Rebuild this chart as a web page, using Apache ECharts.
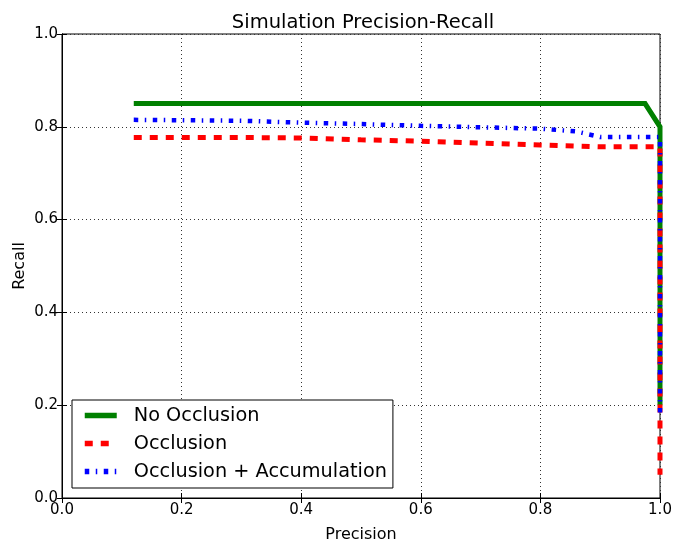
<!DOCTYPE html>
<html>
<head>
<meta charset="utf-8">
<script src="https://cdn.jsdelivr.net/npm/echarts@6/dist/echarts.min.js"></script>
<style>
  html, body { margin: 0; padding: 0; background: #fff; }
  #chart { width: 674px; height: 539px; }
</style>
</head>
<body>
<div id="chart"></div>
<script>
// Precision (x) / recall (y) pairs for each simulation setting
const noOcclusionPrecision = [0.12, 0.975, 1.0, 1.0];
const noOcclusionRecall    = [0.85, 0.85, 0.80, 0.20];

const occlusionPrecision = [0.12, 0.30, 0.40, 0.50, 0.60, 0.70, 0.80, 0.90, 1.00, 1.00];
const occlusionRecall    = [0.777, 0.777, 0.776, 0.772, 0.769, 0.765, 0.761, 0.757, 0.757, 0.05];

const accumPrecision = [0.12, 0.30, 0.40, 0.50, 0.60, 0.70, 0.80, 0.86, 0.90, 1.00, 1.00];
const accumRecall    = [0.815, 0.813, 0.809, 0.806, 0.802, 0.799, 0.796, 0.790, 0.778, 0.778, 0.18];

const FONT = 'DejaVu Sans';

function pairs(xs, ys) {
  return xs.map((x, i) => [x, ys[i]]);
}

const chart = echarts.init(document.getElementById('chart'), null, { renderer: 'canvas' });

const baseAxis = {
  type: 'value',
  min: 0,
  max: 1,
  interval: 0.2,
  axisLine: { show: true, lineStyle: { color: '#000', width: 1 } },
  axisTick: { show: true, inside: true, length: 5, lineStyle: { color: '#000', width: 1 } }
};

const gridLine = { show: true, lineStyle: { color: '#333', width: 1, type: [1, 3] } };

chart.setOption({
  animation: false,
  backgroundColor: '#fff',
  title: {
    text: 'Simulation Precision-Recall',
    left: 358,
    textAlign: 'center',
    top: 8,
    textStyle: { fontFamily: FONT, fontSize: 19.5, fontWeight: 'normal', color: '#000' }
  },
  grid: {
    left: 62, right: 14, top: 34, bottom: 41,
    outerBoundsMode: 'none',
    containLabel: false,
    show: true, borderColor: '#000', borderWidth: 1, backgroundColor: '#fff'
  },
  legend: {
    orient: 'vertical',
    left: 72,
    top: 400,
    padding: [6, 6, 7, 10],
    itemGap: 9,
    itemWidth: 32,
    itemHeight: 22,
    borderColor: '#000',
    borderWidth: 1,
    backgroundColor: '#fff',
    itemStyle: { opacity: 0 },
    lineStyle: { width: 5.5 },
    textStyle: {
      fontFamily: FONT, fontSize: 19.3, color: '#000',
      padding: [0, 0, 0, 12]
    },
    data: ['No Occlusion', 'Occlusion', 'Occlusion + Accumulation']
  },
  xAxis: [
    Object.assign({}, baseAxis, {
      position: 'bottom',
      name: 'Precision',
      nameLocation: 'middle',
      nameGap: 29,
      nameMoveOverlap: false,
      nameTextStyle: { fontFamily: FONT, fontSize: 16, color: '#000' },
      axisLabel: {
        fontFamily: FONT, fontSize: 15, color: '#000', margin: 5,
        formatter: v => v.toFixed(1)
      },
      splitLine: gridLine
    }),
    Object.assign({}, baseAxis, {
      position: 'top',
      axisLabel: { show: false },
      splitLine: { show: false }
    })
  ],
  yAxis: [
    Object.assign({}, baseAxis, {
      position: 'left',
      name: 'Recall',
      nameLocation: 'middle',
      nameGap: 34,
      nameMoveOverlap: false,
      nameTextStyle: { fontFamily: FONT, fontSize: 16, color: '#000' },
      axisLabel: {
        fontFamily: FONT, fontSize: 15, color: '#000', margin: 4,
        formatter: v => v.toFixed(1)
      },
      splitLine: gridLine
    }),
    Object.assign({}, baseAxis, {
      position: 'right',
      axisLabel: { show: false },
      splitLine: { show: false }
    })
  ],
  series: [
    {
      name: 'No Occlusion',
      type: 'line',
      symbol: 'none',
      clip: true,
      color: '#008000',
      lineStyle: { color: '#008000', width: 5, cap: 'butt', join: 'miter' },
      data: pairs(noOcclusionPrecision, noOcclusionRecall),
      z: 3
    },
    {
      name: 'Occlusion',
      type: 'line',
      symbol: 'none',
      clip: true,
      color: '#ff0000',
      lineStyle: { color: '#ff0000', width: 5, type: [8, 8], cap: 'butt' },
      data: pairs(occlusionPrecision, occlusionRecall),
      z: 4
    },
    {
      name: 'Occlusion + Accumulation',
      type: 'line',
      symbol: 'none',
      clip: true,
      color: '#0000ff',
      lineStyle: { color: '#0000ff', width: 4.5, type: [4.5, 6.5, 1.5, 6.5], cap: 'butt' },
      data: pairs(accumPrecision, accumRecall),
      z: 5
    }
  ]
});
</script>
</body>
</html>
